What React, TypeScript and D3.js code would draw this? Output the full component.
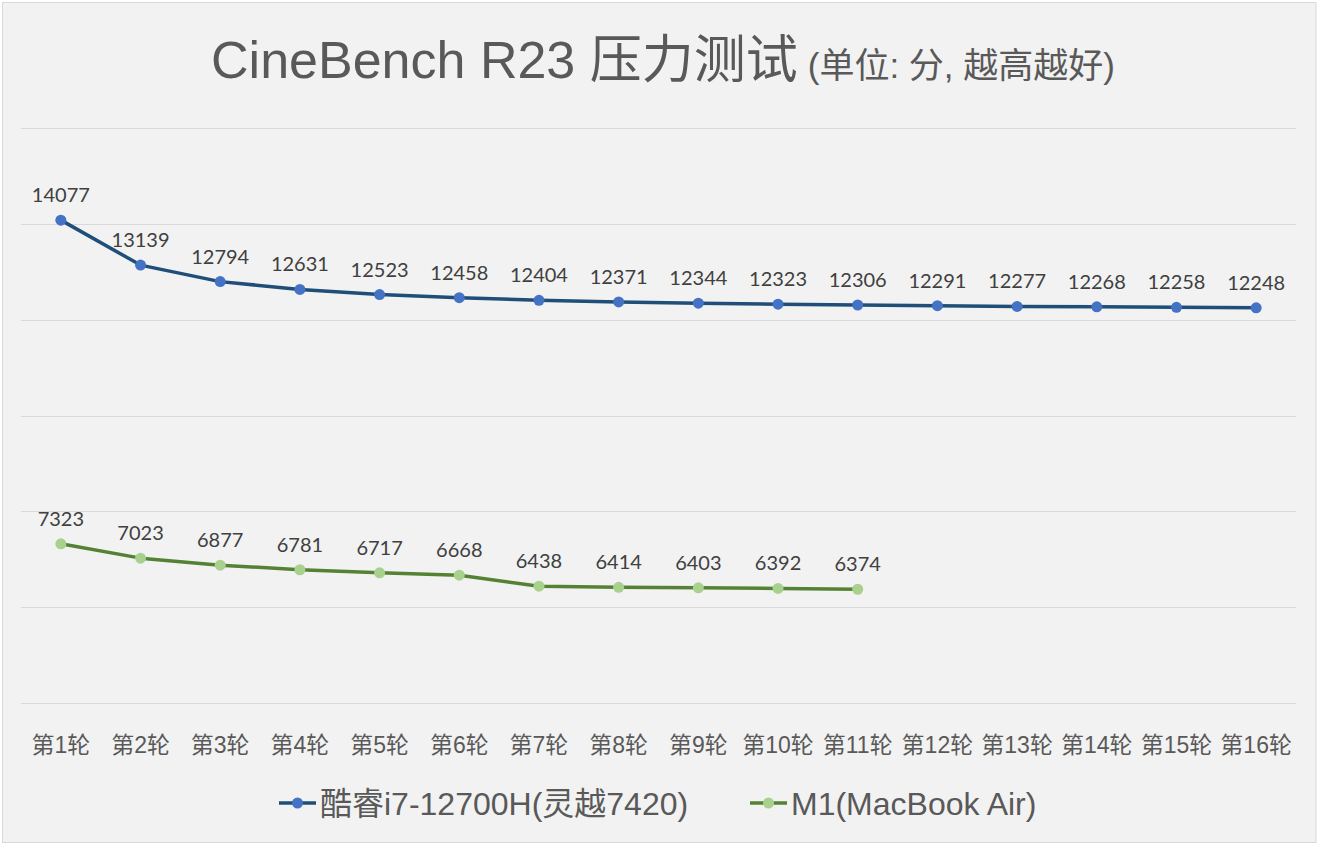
import React from "react";
import * as d3 from "d3";

const categories = ["第1轮","第2轮","第3轮","第4轮","第5轮","第6轮","第7轮","第8轮","第9轮","第10轮","第11轮","第12轮","第13轮","第14轮","第15轮","第16轮"];
const intelValues = [14077,13139,12794,12631,12523,12458,12404,12371,12344,12323,12306,12291,12277,12268,12258,12248];
const m1Values = [7323,7023,6877,6781,6717,6668,6438,6414,6403,6392,6374];
const gridTicks = [4000,6000,8000,10000,12000,14000,16000];
const seriesNames = ["酷睿i7-12700H(灵越7420)", "M1(MacBook Air)"];

const W = 1319, H = 847;
const LATIN = "'Liberation Sans', Arial, 'Noto Sans CJK SC', sans-serif";
const LABEL_FONT = "Lato, 'Open Sans', sans-serif";

export default function App() {
  const x = d3.scaleBand<string>().domain(categories).range([21, 1296]);
  const y = d3.scaleLinear().domain([4000, 16000]).range([703, 128]);
  const cx = (i: number) => (x(categories[i]) as number) + x.bandwidth() / 2;
  const line = d3.line<number>().x((_, i) => cx(i)).y((d) => y(d)).curve(d3.curveLinear);

  const series = [
    { name: seriesNames[0], values: intelValues, stroke: "#1F4E79", marker: "#4472C4" },
    { name: seriesNames[1], values: m1Values, stroke: "#548235", marker: "#A9D18E" },
  ];

  const legendItems = [
    { x: 279, ...series[0] },
    { x: 750, ...series[1] },
  ];

  return (
    <svg width={W} height={H} style={{ position: "absolute", left: 0, top: 0, display: "block" }}>
      <rect x={0} y={0} width={W} height={H} fill="#ffffff" />
      <rect x={2.5} y={2.5} width={1313.5} height={840} fill="#F2F2F2" stroke="#D9D9D9" strokeWidth={1} />
      <text x={663} y={78} textAnchor="middle" fill="#595959" fontFamily={LATIN}>
        <tspan fontSize={52}>CineBench R23 压力测试</tspan>
        <tspan fontSize={35} dx={10}>(单位: 分, 越高越好)</tspan>
      </text>
      {gridTicks.map((t) => (
        <line key={t} x1={21} x2={1296} y1={Math.round(y(t)) + 0.5} y2={Math.round(y(t)) + 0.5} stroke="#D9D9D9" strokeWidth={1} />
      ))}
      {categories.map((c, i) => (
        <text key={c} x={cx(i)} y={753} textAnchor="middle" fontSize={23} fill="#595959" fontFamily={LATIN}>{c}</text>
      ))}
      {series.map((s) => (
        <g key={s.name}>
          <path d={line(s.values) || ""} fill="none" stroke={s.stroke} strokeWidth={3.5} strokeLinejoin="round" strokeLinecap="round" />
          {s.values.map((v, i) => (
            <circle key={i} cx={cx(i)} cy={y(v)} r={5.5} fill={s.marker} />
          ))}
          {s.values.map((v, i) => (
            <text key={"l" + i} x={cx(i)} y={y(v) - 18} textAnchor="middle" fontSize={20} fill="#404040" fontFamily={LABEL_FONT}>{v}</text>
          ))}
        </g>
      ))}
      {legendItems.map((l) => (
        <g key={l.name}>
          <line x1={l.x} x2={l.x + 37} y1={803} y2={803} stroke={l.stroke} strokeWidth={3.5} />
          <circle cx={l.x + 18.5} cy={803} r={5.5} fill={l.marker} />
          <text x={l.x + 41} y={815} fontSize={32} fill="#595959" fontFamily={LATIN}>{l.name}</text>
        </g>
      ))}
    </svg>
  );
}
